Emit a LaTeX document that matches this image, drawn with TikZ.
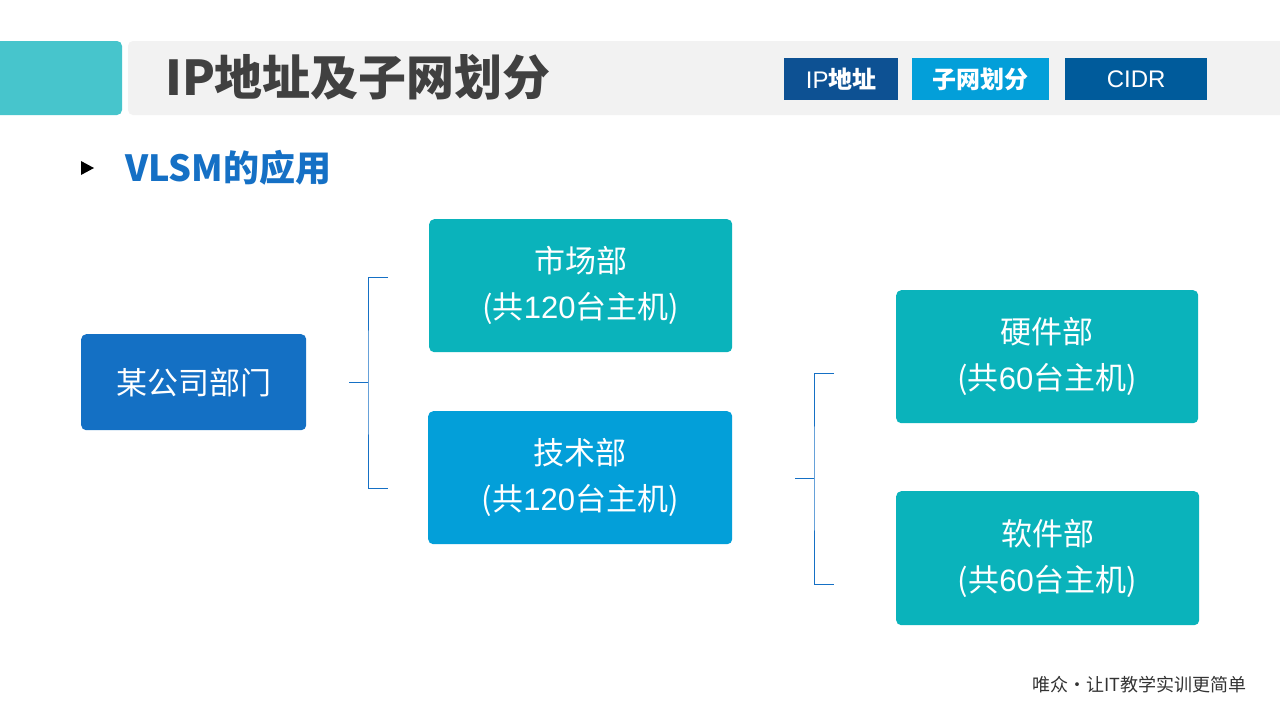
\documentclass[tikz,border=0pt]{standalone}
\usepackage{fontspec}
\setmainfont{Noto Sans CJK SC}
\newfontfamily\cjk{Noto Sans CJK SC}
\newfontfamily\latinsans{Liberation Sans}
\definecolor{tealL}{HTML}{47C5CC}
\definecolor{barG}{HTML}{F2F2F2}
\definecolor{titleG}{HTML}{404040}
\definecolor{tabA}{HTML}{0D5193}
\definecolor{tabB}{HTML}{039FD9}
\definecolor{tabC}{HTML}{005B9B}
\definecolor{blueT}{HTML}{1570C5}
\definecolor{deptB}{HTML}{1470C4}
\definecolor{boxT}{HTML}{0AB3BB}
\definecolor{boxS}{HTML}{039FD9}
\definecolor{lineB}{HTML}{1570C5}
\begin{document}
\begin{tikzpicture}[x=1pt,y=-1pt,
  tabbox/.style={fill=#1,text=white,inner sep=0pt,anchor=north west,font=\fontsize{24}{28}\selectfont},
  unitbox/.style={fill=#1,rounded corners=5pt,text=white,inner sep=0pt,anchor=north west,align=center,font=\fontsize{31}{46}\selectfont},
  brline/.style={draw=lineB,line width=1pt}]
\useasboundingbox (0,0) rectangle (1280,720);
\fill[white] (0,0) rectangle (1280,720);
% header
\fill[tealL,rounded corners=5pt] (-10,41) rectangle (122,115);
\fill[barG,rounded corners=5pt] (128,41) rectangle (1290,115);
\node[anchor=west,text=titleG,font=\fontsize{48}{54}\selectfont\bfseries,inner sep=0pt] (title) at (165,77) {IP地址及子网划分};
\node[tabbox=tabA,minimum width=114pt,minimum height=42pt] (tab1) at (784,58) {\latinsans IP\cjk\bfseries 地址};
\node[tabbox=tabB,minimum width=137pt,minimum height=42pt,font=\fontsize{24}{28}\selectfont\bfseries] (tab2) at (912,58) {子网划分};
\node[tabbox=tabC,minimum width=142pt,minimum height=42pt] (tab3) at (1065,58) {\latinsans CIDR};
% bullet
\fill[black] (81,161) -- (94,168) -- (81,175) -- cycle;
\node[anchor=west,text=blueT,font=\fontsize{36}{42}\selectfont\bfseries,inner sep=0pt] (sub) at (125,168) {VLSM的应用};
% boxes
\node[unitbox=deptB,minimum width=225pt,minimum height=96pt] (dept) at (81,334) {某公司部门};
\node[unitbox=boxT,minimum width=303pt,minimum height=133pt] (mkt) at (429,219) {市场部\\(共{\latinsans 120}台主机)};
\node[unitbox=boxS,minimum width=304pt,minimum height=133pt] (tech) at (428,411) {技术部\\(共{\latinsans 120}台主机)};
\node[unitbox=boxT,minimum width=302pt,minimum height=133pt] (hw) at (896,290) {硬件部\\(共{\latinsans 60}台主机)};
\node[unitbox=boxT,minimum width=303pt,minimum height=134pt] (sw) at (896,491) {软件部\\(共{\latinsans 60}台主机)};
% bracket 1
\coordinate (b1s) at (349,382);
\coordinate (b1m) at (368,382);
\coordinate (b1t) at (388,277);
\coordinate (b1b) at (388,488);
\draw[brline] (b1s) -- (b1m);
\draw[brline] (b1t) -| (b1m) |- (b1b);
% bracket 2
\coordinate (b2s) at (795,478);
\coordinate (b2m) at (814,478);
\coordinate (b2t) at (834,373);
\coordinate (b2b) at (834,584);
\draw[brline] (b2s) -- (b2m);
\draw[brline] (b2t) -| (b2m) |- (b2b);
% footer
\node[anchor=west,text=black!80,font=\fontsize{18}{20}\selectfont,inner sep=0pt] (foot) at (1032,685) {唯众•让IT教学实训更简单};
\end{tikzpicture}
\end{document}
